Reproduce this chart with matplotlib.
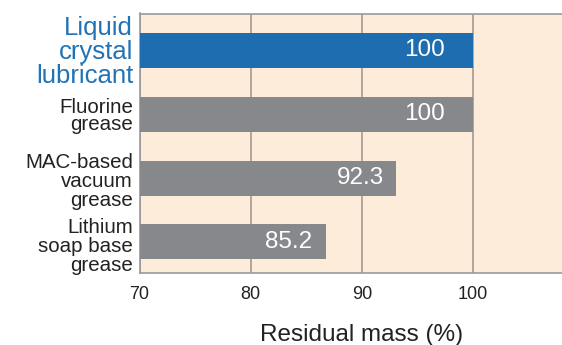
"""
Residual mass of lubricants - horizontal bar chart
"""

import matplotlib.pyplot as plt
import numpy as np

plt.rcParams['font.family'] = ['Liberation Sans', 'DejaVu Sans']

# Data
categories = ['Liquid\ncrystal\nlubricant', 'Fluorine\ngrease',
              'MAC-based\nvacuum\ngrease', 'Lithium\nsoap base\ngrease']
# bar lengths as drawn in the picture
residual = [100, 100, 93.1, 86.8]
# values printed on the bars
value_labels = ['100', '100', '92.3', '85.2']
xticks = [70, 80, 90, 100]

# Style
bg_color = '#fdecd9'
blue = '#1d6db0'
gray = '#87888c'
bar_colors = [blue, gray, gray, gray]
label_colors = ['#2273b5', '#222222', '#222222', '#222222']
label_sizes = [18.5, 14.8, 14.8, 14.8]
label_spacing = [1.0, 0.85, 1.0, 1.0]
label_shift = [-2.0, -1.5, -3.5, -4.5]  # px, vertical nudge of category labels
text_pad = [28, 28, 12, 14]  # px from bar end to value text

W, H = 562, 345
fig = plt.figure(figsize=(W / 100, H / 100), dpi=100)
ax = fig.add_axes([139.5 / W, 1 - 272.5 / H, 1 - 139.5 / W, (272.5 - 13.5) / H])
ax.set_facecolor(bg_color)

y = np.arange(len(categories))
ax.barh(y, [r - 70 for r in residual], left=70, height=0.55,
        color=bar_colors, zorder=3)

for yi, r, txt, pad in zip(y, residual, value_labels, text_pad):
    ax.annotate(txt, xy=(r, yi), xytext=(-pad * 0.72, 0),
                textcoords='offset points', ha='right', va='center',
                color='white', fontsize=17.5, zorder=4)

ax.set_xlim(70, 108)
ax.set_ylim(3.48, -0.58)
ax.set_xticks(xticks)
ax.set_xticklabels([str(t) for t in xticks], fontsize=13, color='#222222')
ax.tick_params(axis='x', length=0, pad=10)
ax.set_yticks([])

trans = ax.get_yaxis_transform()
for yi, cat, c, s, ls, dy in zip(y, categories, label_colors, label_sizes,
                                 label_spacing, label_shift):
    ax.annotate(cat, xy=(0, yi), xycoords=trans,
                xytext=(-6.5 * 0.72, dy * 0.72), textcoords='offset points',
                ha='right', va='center', color=c, fontsize=s,
                linespacing=ls, annotation_clip=False)

ax.grid(True, axis='x', color='#a39a8e', linewidth=1.2, zorder=1)
for side in ['left', 'bottom', 'top']:
    ax.spines[side].set_color('#9a9a9a')
    ax.spines[side].set_linewidth(1.2)
ax.spines['right'].set_visible(False)

ax.set_xlabel('Residual mass (%)', fontsize=17.5, color='#222222')
ax.xaxis.set_label_coords(0.526, -0.197)

fig.savefig('out.png', dpi=100, facecolor='white')
